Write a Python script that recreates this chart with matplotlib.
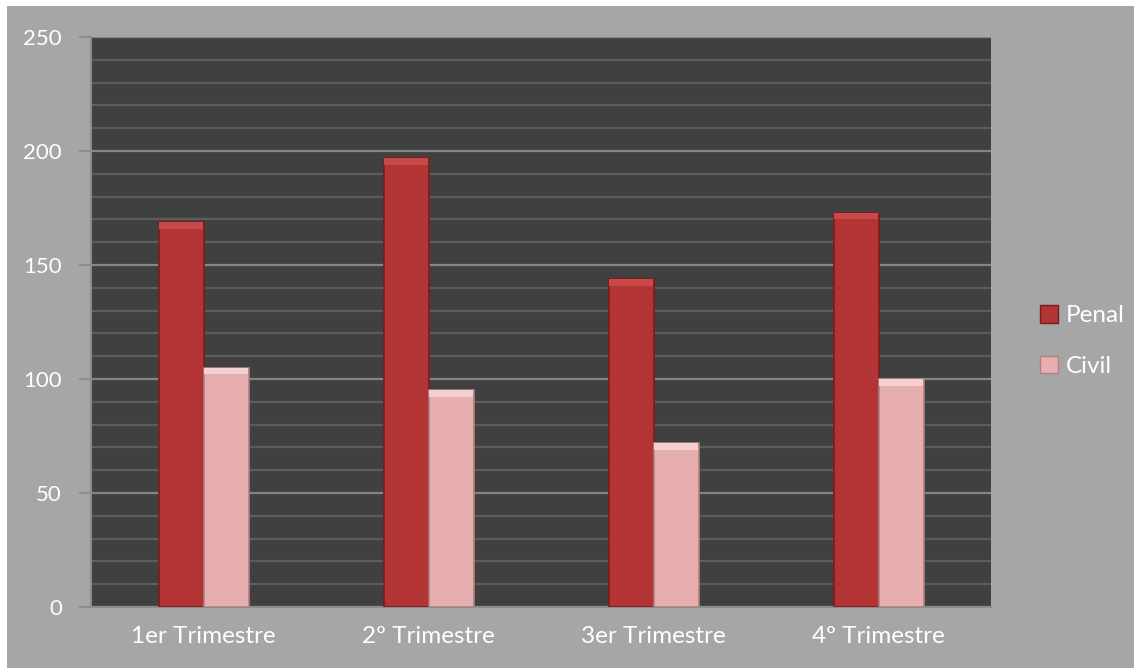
import numpy as np
import matplotlib
matplotlib.use("Agg")
import matplotlib.pyplot as plt
from matplotlib.patches import Rectangle, Patch

# Data
trimestres = ["1er Trimestre", "2º Trimestre", "3er Trimestre", "4º Trimestre"]
penal = [169, 197, 144, 173]
civil = [105, 95, 72, 100]
series_names = ["Penal", "Civil"]

# Style
BG = "#a6a6a6"
PLOT_BG = "#404040"
PENAL_C = "#b23434"
PENAL_EDGE = "#7a1c1c"
CIVIL_C = "#e6aeae"
CIVIL_EDGE = "#b08080"

plt.rcParams["font.family"] = ["Lato", "DejaVu Sans"]

fig = plt.figure(figsize=(11.34, 6.68), dpi=100, facecolor="white")
fig.patches.append(Rectangle((7 / 1134, 0), 1, 662 / 668, transform=fig.transFigure,
                             facecolor=BG, edgecolor="none", zorder=-10))

ax = fig.add_axes([91 / 1134, 1 - 607 / 668, 900 / 1134, 570 / 668])
ax.set_facecolor(PLOT_BG)

x = np.arange(len(trimestres))
w = 0.2

def draw_bars(xs, vals, color, edge, light):
    ax.bar(xs, vals, width=w, color=color, edgecolor=edge, linewidth=1.2, zorder=3)
    # bevel highlight at the top of each bar
    cap = 3.0
    ax.bar(xs, [cap] * len(vals), bottom=[v - cap for v in vals], width=w * 0.96,
           color=light, edgecolor="none", zorder=4)

draw_bars(x - w / 2, penal, PENAL_C, PENAL_EDGE, "#c94848")
draw_bars(x + w / 2, civil, CIVIL_C, CIVIL_EDGE, "#f4d0d0")

ax.set_xlim(-0.5, len(trimestres) - 0.5)
ax.set_ylim(0, 250)
ax.set_yticks(np.arange(0, 251, 50))
ax.set_yticks(np.arange(0, 251, 10), minor=True)
ax.grid(axis="y", which="major", color="#858585", linewidth=1.6, zorder=1)
ax.grid(axis="y", which="minor", color="#5c5c5c", linewidth=1.6, zorder=0)
ax.set_axisbelow(True)

ax.set_xticks(x)
ax.set_xticklabels(trimestres)
ax.tick_params(axis="x", length=0, pad=14, labelsize=17.5, labelcolor="white")
ax.tick_params(axis="y", which="major", length=9, width=1.5, color="#8c8c8c",
               pad=12, labelsize=16, labelcolor="white")
ax.tick_params(axis="y", which="minor", length=0)

for side in ["top", "right"]:
    ax.spines[side].set_visible(False)
for side in ["left", "bottom"]:
    ax.spines[side].set_color("#8c8c8c")
    ax.spines[side].set_linewidth(1.5)

handles = [Patch(facecolor=PENAL_C, edgecolor=PENAL_EDGE),
           Patch(facecolor=CIVIL_C, edgecolor=CIVIL_EDGE)]
leg = fig.legend(handles, series_names, loc="center left",
                 bbox_to_anchor=(1018 / 1134, 1 - 341 / 668),
                 frameon=False, fontsize=17.5, labelcolor="white",
                 handlelength=0.75, handleheight=0.75, handletextpad=0.3,
                 labelspacing=1.2)

fig.savefig("out.png", dpi=100, facecolor=fig.get_facecolor())
